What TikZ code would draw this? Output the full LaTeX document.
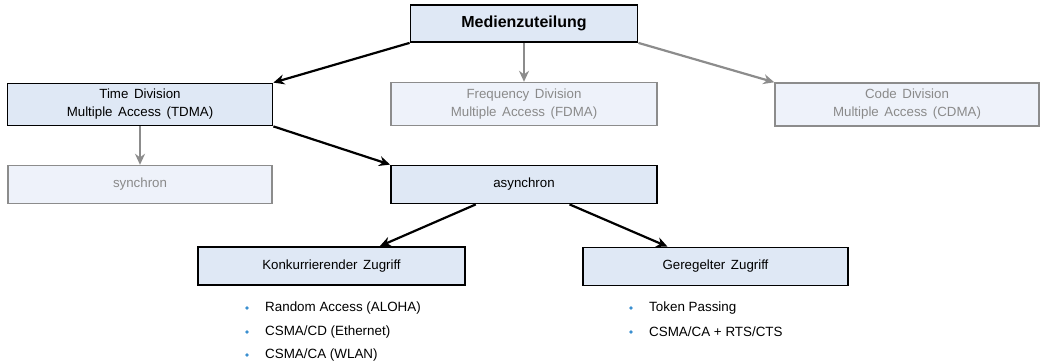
\documentclass[tikz,border=0pt]{standalone}
\usepackage{fontspec}
\setmainfont{Liberation Sans}
\usetikzlibrary{arrows.meta,calc}
\definecolor{actfill}{HTML}{DFE8F5}
\definecolor{inafill}{HTML}{EEF2FA}
\definecolor{inadraw}{HTML}{8C8C8C}
\definecolor{inatext}{HTML}{8A8A8A}
\definecolor{bulletblue}{HTML}{3A8FD0}
\newcommand{\boxfont}{\fontsize{13.3}{18}\selectfont\spaceskip=0.42em plus 0.1em}
\tikzset{
  actbox/.style={draw=black, line width=1.8pt, fill=actfill, inner sep=0pt, align=center, font=\boxfont},
  inabox/.style={draw=inadraw, line width=1.4pt, fill=inafill, inner sep=0pt, align=center, text=inatext, font=\boxfont},
  actarrow/.style={line width=2.2pt, draw=black, -{Stealth[length=11pt,width=10pt]}},
  inaarrow/.style={line width=2.2pt, draw=inadraw, -{Stealth[length=11pt,width=10pt]}},
  bul/.style={circle, fill=bulletblue, inner sep=0pt, minimum size=3.6pt},
  item/.style={anchor=west, inner sep=0pt, font=\fontsize{13.4}{15}\selectfont}
}
\begin{document}
\begin{tikzpicture}[x=1pt,y=-1pt]
\useasboundingbox (0,0) rectangle (1041,363);
\node[actbox, minimum width=227pt, minimum height=37pt, font=\fontsize{16}{18}\selectfont\bfseries] (med) at (524,23.5) {Medienzuteilung};
\node[actbox, minimum width=265pt, minimum height=42pt] (tdma) at (140,104.5) {Time Division\\Multiple Access (TDMA)};
\node[inabox, minimum width=266pt, minimum height=43pt] (fdma) at (524,104) {Frequency Division\\Multiple Access (FDMA)};
\node[inabox, minimum width=264pt, minimum height=43pt] (cdma) at (907,104.5) {Code Division\\Multiple Access (CDMA)};
\node[inabox, minimum width=264pt, minimum height=38pt] (sync) at (140,184.5) {synchron};
\node[actbox, minimum width=266pt, minimum height=38pt] (async) at (524,184.5) {asynchron};
\node[actbox, minimum width=267pt, minimum height=38pt] (konk) at (331.5,266) {Konkurrierender Zugriff};
\node[actbox, minimum width=265pt, minimum height=38pt] (gereg) at (715.5,266.5) {Geregelter Zugriff};

\draw[actarrow] (med.south west) -- (tdma.north east);
\draw[inaarrow] (med.south) -- (fdma.north);
\draw[inaarrow] (med.south east) -- (cdma.north west);
\draw[inaarrow] (tdma.south) -- (sync.north);
\draw[actarrow] (tdma.south east) -- (async.north west);
\draw[actarrow] ($(async.south west)!0.32!(async.south east)$) -- ($(konk.north west)!0.68!(konk.north east)$);
\draw[actarrow] ($(async.south west)!0.67!(async.south east)$) -- ($(gereg.north west)!0.32!(gereg.north east)$);

\node[bul] (b1) at (247,308) {};
\node[item] (t1) at (265,308) {Random Access (ALOHA)};
\node[bul] (b2) at (247,332) {};
\node[item] (t2) at (265,332) {CSMA/CD (Ethernet)};
\node[bul] (b3) at (247,355) {};
\node[item] (t3) at (265,355) {CSMA/CA (WLAN)};
\node[bul] (b4) at (631,308) {};
\node[item] (t4) at (649,308) {Token Passing};
\node[bul] (b5) at (631,332) {};
\node[item] (t5) at (649,332) {CSMA/CA + RTS/CTS};
\end{tikzpicture}
\end{document}
